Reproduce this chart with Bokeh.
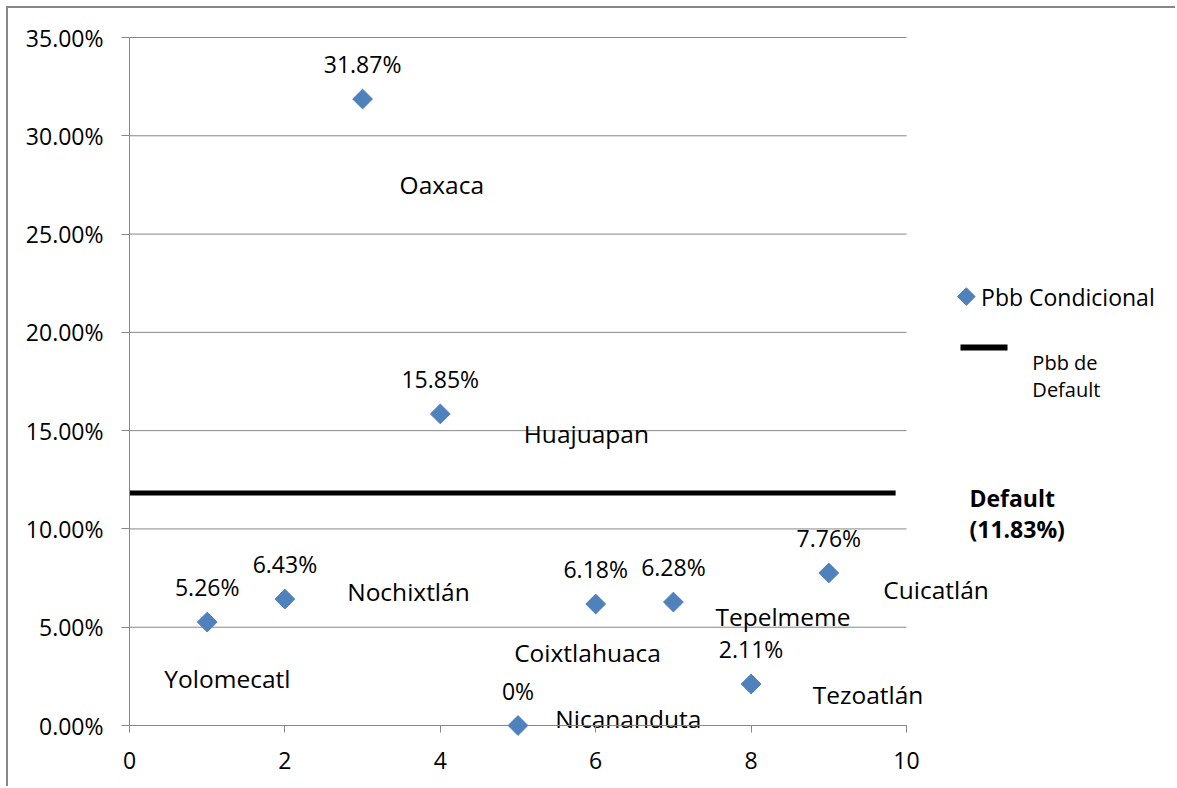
from math import pi

from bokeh.core.properties import value
from bokeh.embed import file_html
from bokeh.models import FixedTicker, NumeralTickFormatter
from bokeh.plotting import figure
from bokeh.resources import INLINE

# ---- data -------------------------------------------------------------
point_x = [1, 2, 3, 4, 5, 6, 7, 8, 9]
pbb_condicional = [0.0526, 0.0643, 0.3187, 0.1585, 0.0, 0.0618, 0.0628, 0.0211, 0.0776]
municipios = ["Yolomecatl", "Nochixtlán", "Oaxaca", "Huajuapan", "Nicananduta",
              "Coixtlahuaca", "Tepelmeme", "Tezoatlán", "Cuicatlán"]
pbb_default = 0.1183
default_x = [0, 9.86]

x_ticks = [0, 2, 4, 6, 8, 10]
y_ticks = [0.0, 0.05, 0.10, 0.15, 0.20, 0.25, 0.30, 0.35]

# ---- layout: where each municipality name sits (data coordinates) -------
name_x = [1.26, 3.59, 4.02, 5.88, 6.42, 5.895, 8.41, 9.505, 10.38]
name_y = [0.0239, 0.0682, 0.2752, 0.1488, 0.0038, 0.0369, 0.0556, 0.0158, 0.0692]

FONT = "Open Sans"
BLUE = "#4F81BD"
GRAY = "#878787"


def pct(v):
    return "0%" if v == 0 else f"{v * 100:.2f}%"


value_labels = [pct(v) for v in pbb_condicional]

# The frame fills the whole canvas; both axes are pinned to the origin so
# the legend and side notes can be drawn as ordinary glyphs.
p = figure(
    width=1169, height=780,
    x_range=(-1.55727, 13.4878), y_range=(-0.032049, 0.364753),
    output_backend="svg", toolbar_location=None,
    min_border_left=0, min_border_top=0,
    min_border_right=0, min_border_bottom=0,
)
p.styles = {
    "margin-left": "6px", "margin-top": "6px",
    "border-top": f"2px solid {GRAY}", "border-left": f"2px solid {GRAY}",
}
p.outline_line_color = None
p.xgrid.visible = False
p.ygrid.visible = False
p.background_fill_color = "white"
p.border_fill_color = "white"

xa = p.xaxis[0]
xa.fixed_location = 0
xa.bounds = (x_ticks[0], x_ticks[-1])
xa.ticker = FixedTicker(ticks=x_ticks)
xa.axis_line_color = GRAY
xa.major_tick_line_color = GRAY
xa.major_tick_out = 7
xa.major_tick_in = 0
xa.minor_tick_line_color = None
xa.major_label_text_font = FONT
xa.major_label_text_font_size = "23px"
xa.major_label_text_color = "black"
xa.major_label_standoff = 19

ya = p.yaxis[0]
ya.fixed_location = 0
ya.bounds = (y_ticks[0], y_ticks[-1])
ya.ticker = FixedTicker(ticks=y_ticks)
ya.formatter = NumeralTickFormatter(format="0.00%")
ya.axis_line_color = GRAY
ya.major_tick_line_color = GRAY
ya.major_tick_out = 8
ya.major_tick_in = 0
ya.minor_tick_line_color = None
ya.major_label_text_font = FONT
ya.major_label_text_font_size = "23px"
ya.major_label_text_color = "black"
ya.major_label_standoff = 18

# horizontal gridlines between the axis and x = 10
p.segment(x0=x_ticks[0], x1=x_ticks[-1], y0=y_ticks, y1=y_ticks,
          line_color=GRAY, line_width=1)

# default-probability reference line
p.line(default_x, [pbb_default, pbb_default], line_color="black", line_width=5)

# conditional probabilities
pts = p.scatter(point_x, pbb_condicional, marker="square", angle=pi / 4, size=14,
                fill_color=BLUE, line_color=BLUE)
pts.level = "overlay"

p.text(point_x, pbb_condicional, text=value_labels, text_align="center",
       text_baseline="middle", y_offset=-35, text_font=value(FONT),
       text_font_size="23px", text_color="black")

p.text(name_x, name_y, text=municipios, text_align="center", text_baseline="middle",
       text_font=value(FONT), text_font_size="24.5px", text_color="black")

# default annotation
p.text([10.81, 10.81], [0.1157, 0.1002],
       text=["Default", f"({pbb_default * 100:.2f}%)"],
       text_align="left", text_baseline="middle", text_font=value(FONT),
       text_font_style="bold", text_font_size="23px", text_color="black")

# legend
p.scatter([10.77], [0.2182], marker="square", angle=pi / 4, size=12.5,
          fill_color=BLUE, line_color=BLUE)
p.text([10.96], [0.2182], text=["Pbb Condicional"], text_align="left",
       text_baseline="middle", text_font=value(FONT), text_font_size="23px",
       text_color="black")
p.line([10.695, 11.30], [0.1923, 0.1923], line_color="black", line_width=6)
p.text([11.62, 11.62], [0.1847, 0.1709], text=["Pbb de", "Default"],
       text_align="left", text_baseline="middle", text_font=value(FONT),
       text_font_size="20px", text_color="black")

open("out.html", "w").write(file_html(p, INLINE))
